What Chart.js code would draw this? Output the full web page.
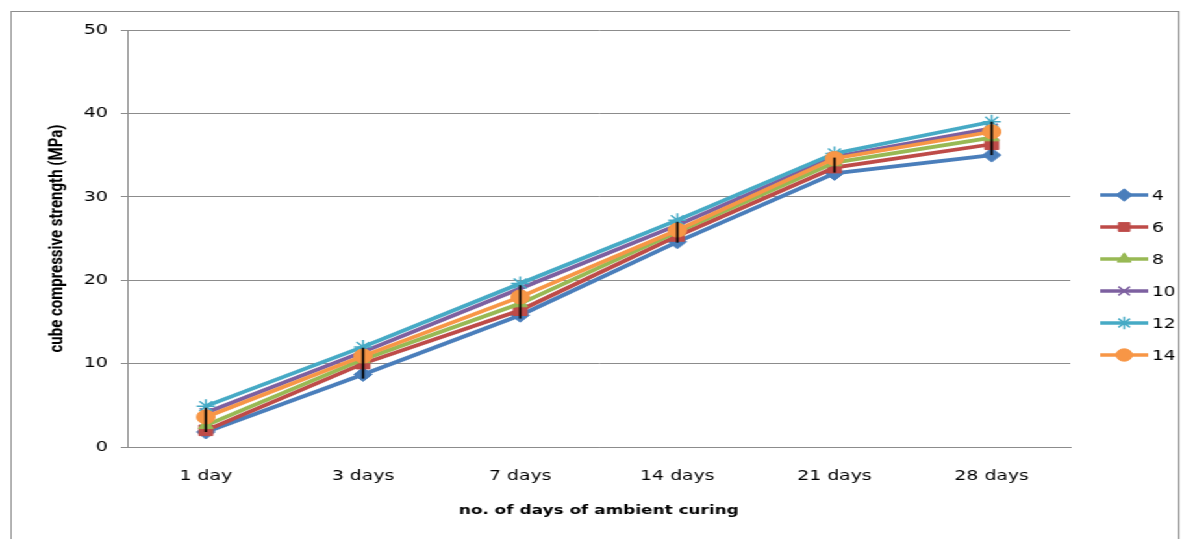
<!DOCTYPE html>
<html>
<head>
<meta charset="utf-8">
<script src="https://cdn.jsdelivr.net/npm/chart.js@4/dist/chart.umd.min.js"></script>
<style>
  html, body { margin: 0; padding: 0; background: #fff; overflow: hidden; }
  #stage { position: absolute; left: 0; top: 0; width: 920px; height: 539px; transform: scaleX(1.29891); transform-origin: 0 0; }
  #frame { position: absolute; left: 8px; top: 11px; width: 900px; height: 600px; border: 1px solid #8c8c8c; box-sizing: border-box; }
  canvas { position: absolute; left: 0; top: 0; }
</style>
</head>
<body>
<div id="stage">
  <div id="frame"></div>
  <canvas id="c" width="920" height="539"></canvas>
</div>
<script>
// Curing ages along the x axis
const categories = ['1 day', '3 days', '7 days', '14 days', '21 days', '28 days'];

// Cube compressive strength (MPa), one array per series
const s4  = [1.8,  8.7, 15.8, 24.6, 32.8, 35.0];
const s6  = [2.0, 10.0, 16.4, 25.3, 33.5, 36.3];
const s8  = [2.6, 10.5, 17.2, 25.8, 34.1, 37.1];
const s10 = [4.1, 11.4, 19.0, 26.6, 34.8, 38.2];
const s12 = [4.9, 12.0, 19.6, 27.2, 35.2, 39.0];
const s14 = [3.6, 10.9, 18.0, 26.0, 34.6, 37.8];

// Spread bars drawn at each age
const errLow  = [1.8,  8.2, 15.4, 24.5, 32.9, 35.0];
const errHigh = [4.7, 11.9, 19.4, 27.0, 34.7, 39.0];

const yTicks = [0, 10, 20, 30, 40, 50];

const seriesNames = ['4', '6', '8', '10', '12', '14'];
const seriesData = [s4, s6, s8, s10, s12, s14];
const colors = ['#4A7EBB', '#BE4B48', '#98B954', '#7D60A0', '#46AAC5', '#F79646'];
const styles = ['rectRot', 'rect', 'triangle', 'crossRot', 'star', 'circle'];
const radii  = [7, 7.5, 6.5, 6.5, 7, 7];
const marks  = [1, 1, 1, 1.5, 1.5, 1];

const datasets = seriesNames.map((name, i) => ({
  label: name,
  data: seriesData[i],
  borderColor: colors[i],
  backgroundColor: colors[i],
  borderWidth: 3.8,
  pointStyle: styles[i],
  pointRadius: radii[i],
  pointHoverRadius: radii[i],
  pointBorderWidth: marks[i],
  pointBackgroundColor: colors[i],
  pointBorderColor: colors[i],
  tension: 0,
  order: seriesNames.length - i
}));

// Vertical spread bars at each category
const spreadBars = {
  id: 'spreadBars',
  afterDatasetsDraw(chart) {
    const { ctx, scales: { x, y } } = chart;
    ctx.save();
    ctx.strokeStyle = '#000';
    ctx.lineWidth = 1.8;
    categories.forEach((c, i) => {
      const px = x.getPixelForValue(i);
      ctx.beginPath();
      ctx.moveTo(px, y.getPixelForValue(errHigh[i]));
      ctx.lineTo(px, y.getPixelForValue(errLow[i]));
      ctx.stroke();
    });
    ctx.restore();
  }
};

// Legend on the right: line sample with marker, then series name
const sideLegend = {
  id: 'sideLegend',
  afterDraw(chart) {
    const { ctx } = chart;
    const x0 = 847, x1 = 884, top = 195, step = 32;
    ctx.save();
    chart.data.datasets.forEach((ds, i) => {
      const yy = top + i * step;
      ctx.strokeStyle = ds.borderColor;
      ctx.lineWidth = 3.5;
      ctx.beginPath();
      ctx.moveTo(x0, yy);
      ctx.lineTo(x1, yy);
      ctx.stroke();
      ctx.fillStyle = ds.pointBackgroundColor;
      ctx.strokeStyle = ds.pointBorderColor;
      ctx.lineWidth = ds.pointBorderWidth;
      Chart.helpers.drawPoint(ctx, {
        pointStyle: ds.pointStyle,
        radius: Math.min(ds.pointRadius, 6.2),
        rotation: 0,
        borderWidth: ds.pointBorderWidth
      }, (x0 + x1) / 2, yy);
      ctx.fillStyle = '#000';
      ctx.font = '14px "DejaVu Sans"';
      ctx.textBaseline = 'middle';
      ctx.textAlign = 'left';
      ctx.fillText(ds.label, x1 + 3, yy + 1);
    });
    ctx.restore();
  }
};

new Chart(document.getElementById('c'), {
  type: 'line',
  data: { labels: categories, datasets },
  plugins: [spreadBars, sideLegend],
  options: {
    responsive: false,
    animation: false,
    events: [],
    layout: { padding: { left: 0, right: 96, top: 30, bottom: 0 } },
    plugins: { legend: { display: false }, tooltip: { enabled: false } },
    scales: {
      x: {
        offset: true,
        grid: { display: false, drawTicks: false },
        border: { display: true, color: '#8c8c8c', width: 1 },
        ticks: { color: '#000', font: { family: 'DejaVu Sans', size: 14.5 }, padding: 21, maxRotation: 0 },
        title: {
          display: true,
          text: 'no. of days of ambient curing',
          color: '#000',
          font: { family: 'DejaVu Sans', size: 13, weight: 'bold' },
          padding: { top: 0, bottom: 21 }
        },
        afterFit(s) { s.height = 92; }
      },
      y: {
        min: 0,
        max: 50,
        afterBuildTicks(s) { s.ticks = yTicks.map(v => ({ value: v })); },
        grid: { color: '#8c8c8c', lineWidth: 1, tickLength: 5, drawTicks: true },
        border: { display: true, color: '#8c8c8c', width: 1 },
        ticks: { color: '#000', font: { family: 'DejaVu Sans', size: 14.5 }, padding: 10 },
        title: {
          display: true,
          text: 'cube compressive strength (MPa)',
          color: '#000',
          font: { family: '"Liberation Sans Narrow", "Roboto"', size: 15, weight: 'bold' },
          padding: { top: 35, bottom: 0 }
        },
        afterFit(s) { s.width = 98; }
      }
    }
  }
});
</script>
</body>
</html>
